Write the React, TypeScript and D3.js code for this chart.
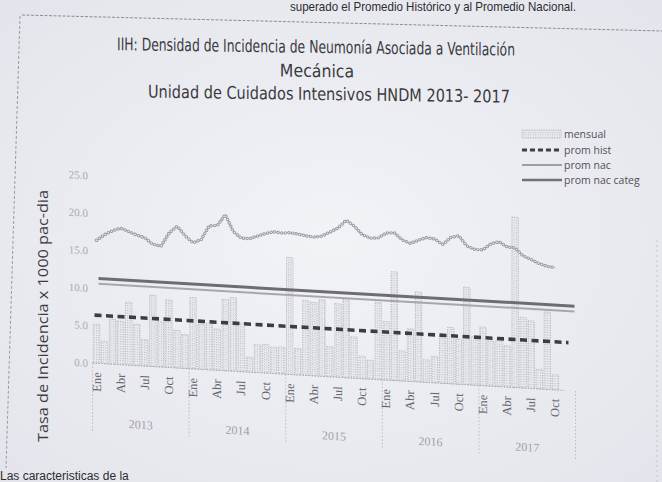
import React from 'react';
import * as d3 from 'd3';

const W = 662;
const H = 482;

const YEARS = ['2013', '2014', '2015', '2016', '2017'];
const MONTH_TICKS = ['Ene', 'Abr', 'Jul', 'Oct'];
const Y_TICKS = [0, 5, 10, 15, 20, 25];
const Y_TICK_LABELS = ['0.0', '5.0', '10.0', '15.0', '20.0', '25.0'];

// monthly density, Ene 2013 .. Oct 2017
const MENSUAL = [
  5.2, 3.0, 6.0, 5.8, 8.4, 5.5, 3.5, 9.5, 6.0, 9.0, 5.0, 4.5,
  9.5, 6.0, 6.2, 5.5, 9.5, 9.8, 6.5, 2.0, 3.7, 3.8, 3.5, 3.6,
  15.6, 3.5, 10.0, 9.8, 10.2, 4.0, 9.8, 10.4, 5.5, 3.0, 2.5, 10.3,
  7.8, 14.5, 4.0, 7.0, 12.0, 3.0, 3.5, 6.5, 7.5, 6.0, 13.0, 6.5,
  7.8, 6.0, 6.2, 5.5, 22.7, 9.4, 9.0, 2.6, 10.3, 2.0,
];

// upper wavy series
const TENDENCIA = [
  16.4, 17.2, 17.8, 18.2, 17.8, 17.4, 17.1, 16.3, 16.1, 17.9, 18.9, 17.7,
  16.8, 17.3, 19.2, 19.3, 20.8, 18.6, 17.8, 17.8, 18.2, 18.6, 18.9, 18.8,
  18.9, 18.8, 18.6, 18.5, 18.7, 19.3, 19.9, 21.0, 20.3, 19.2, 18.8, 18.9,
  19.6, 19.7, 18.8, 18.4, 18.9, 19.3, 19.2, 18.5, 19.5, 19.8, 18.5, 18.1,
  18.1, 19.0, 19.3, 18.7, 18.6, 17.6, 17.2, 16.7, 16.4, 16.3,
];

const PROM_HIST = 6.4;
const PROM_NAC = 10.6;
const PROM_NAC_CATEG = 11.3;

const LEGEND = ['mensual', 'prom hist', 'prom nac', 'prom nac categ'];

const BG = '#eceef3';
const SANS = "'Liberation Sans Narrow', 'DejaVu Sans Condensed', 'Open Sans', sans-serif";
const SERIF = "'Liberation Serif', 'DejaVu Serif', serif";

export default function App() {
  const nMonths = YEARS.length * 12;
  const step = 8.05;
  const x0 = 92.5;
  const x = d3
    .scaleBand<number>()
    .domain(d3.range(nMonths))
    .range([x0, x0 + step * nMonths])
    .paddingInner(0.2)
    .paddingOuter(0.1);
  const bw = x.bandwidth();
  const cx = (i: number) => (x(i) as number) + bw / 2;
  const y = d3.scaleLinear().domain([0, 25]).range([362, 174.5]);

  const plotSlope = 0.058;
  const plotDeg = (Math.atan(plotSlope) * 180) / Math.PI;
  const plotT = `translate(0,${-plotSlope * 75}) skewY(${plotDeg})`;
  const titleSlope = 0.014;
  const titleT = `translate(0,${-titleSlope * 320}) skewY(${(Math.atan(titleSlope) * 180) / Math.PI})`;

  const lineGen = d3
    .line<number>()
    .x((_, i) => cx(i))
    .y((d) => y(d));
  const trendPath = lineGen(TENDENCIA) || '';

  const xStart = cx(0);
  const xEnd = cx(nMonths - 1) + 3;

  return (
    <svg
      width={W}
      height={H}
      style={{ position: 'absolute', left: 0, top: 0, background: BG }}
      xmlns="http://www.w3.org/2000/svg"
    >
      <defs>
        <radialGradient id="paper" cx="50%" cy="50%" r="75%">
          <stop offset="0%" stopColor="#f2f3f7" />
          <stop offset="100%" stopColor="#e3e4eb" />
        </radialGradient>
        <pattern id="stip" width="2.4" height="2.4" patternUnits="userSpaceOnUse">
          <rect width="2.4" height="2.4" fill="#e8e9ee" />
          <rect width="1" height="1" fill="#bdbdc3" />
        </pattern>
      </defs>
      <rect width={W} height={H} fill="url(#paper)" />

      {/* header text cut at top */}
      <text x={290} y={11} fontFamily="'Liberation Sans', Arial, sans-serif" fontSize={13} fill="#2c2c30" textLength={286} lengthAdjust="spacingAndGlyphs">
        superado el Promedio Histórico y al Promedio Nacional.
      </text>

      {/* frame */}
      <line x1={22} y1={15} x2={662} y2={31} stroke="#8c8c92" strokeWidth={1} strokeDasharray="3 1.5" />
      <line x1={20} y1={16} x2={6} y2={468} stroke="#9a9aa0" strokeWidth={1} strokeDasharray="3 2" />
      <line x1={657} y1={240} x2={657} y2={482} stroke="#c4c4ca" strokeWidth={1} strokeDasharray="2 3" />

      {/* title */}
      <g transform={titleT} fill="#3a3a40" fontFamily={SANS} fontSize={17.5}>
        <text x={316} y={53} textAnchor="middle" textLength={398} lengthAdjust="spacingAndGlyphs">
          IIH: Densidad de Incidencia de Neumonía Asociada a Ventilación
        </text>
        <text x={317} y={77} textAnchor="middle">
          Mecánica
        </text>
        <text x={329} y={100} textAnchor="middle" textLength={362} lengthAdjust="spacingAndGlyphs">
          Unidad de Cuidados Intensivos HNDM 2013- 2017
        </text>
      </g>

      {/* legend */}
      <g fontFamily="'Open Sans', 'Noto Sans', sans-serif" fontSize={10.5} fill="#505056">
        {LEGEND.map((name, i) => {
          const ly = [134, 150, 165, 180][i];
          return (
            <g key={name}>
              {i === 0 && (
                <rect x={522} y={ly - 4} width={39} height={8} fill="url(#stip)" stroke="#b0b0b6" strokeWidth={0.8} strokeDasharray="1.2 1.2" />
              )}
              {i === 1 && <line x1={522} x2={562} y1={ly} y2={ly} stroke="#3e3e44" strokeWidth={3} strokeDasharray="5 3" />}
              {i === 2 && <line x1={522} x2={562} y1={ly} y2={ly} stroke="#9e9ea4" strokeWidth={2} />}
              {i === 3 && <line x1={522} x2={562} y1={ly} y2={ly} stroke="#707076" strokeWidth={2.5} />}
              <text x={564} y={ly + 3.5}>{name}</text>
            </g>
          );
        })}
      </g>

      {/* y axis title */}
      <text
        transform="translate(48,316) rotate(-90)"
        textAnchor="middle"
        fontFamily="'Open Sans', 'Noto Sans', sans-serif"
        fontSize={14}
        fill="#3a3a40"
        textLength={252}
        lengthAdjust="spacingAndGlyphs"
      >
        Tasa de Incidencia x 1000 pac-dia
      </text>

      {/* plot */}
      <g transform={plotT}>
        {/* y tick labels */}
        {Y_TICKS.map((t, i) => (
          <text key={t} x={88} y={y(t) + 4} textAnchor="end" fontFamily={SERIF} fontSize={11} fill="#a9a9b0">
            {Y_TICK_LABELS[i]}
          </text>
        ))}

        {/* bars */}
        {MENSUAL.map((v, i) => (
          <rect
            key={i}
            x={x(i)}
            y={y(v)}
            width={bw}
            height={y(0) - y(v)}
            fill="url(#stip)"
            stroke="#b0b0b6"
            strokeWidth={0.8}
            strokeDasharray="1.2 1.2"
          />
        ))}

        {/* baseline */}
        <line x1={x0} x2={xEnd - 10} y1={y(0)} y2={y(0)} stroke="#a6a6ac" strokeWidth={1} strokeDasharray="1.5 1.5" />

        {/* year separators */}
        {d3.range(YEARS.length + 1).map((k) => {
          const sx = x0 + k * 12 * step;
          return <line key={k} x1={sx} x2={sx} y1={y(0)} y2={430} stroke="#b6b6bc" strokeWidth={0.9} strokeDasharray="1.5 2" />;
        })}

        {/* averages */}
        <line x1={xStart + 2} x2={xEnd} y1={y(PROM_NAC)} y2={y(PROM_NAC)} stroke="#a6a6ac" strokeWidth={2} />
        <line x1={xStart + 2} x2={xEnd} y1={y(PROM_NAC_CATEG)} y2={y(PROM_NAC_CATEG)} stroke="#6c6c72" strokeWidth={3} />
        <line x1={xStart - 2} x2={xEnd - 6} y1={y(PROM_HIST)} y2={y(PROM_HIST)} stroke="#3c3c42" strokeWidth={3.6} strokeDasharray="7 4.5" />

        {/* wavy series */}
        <path d={trendPath} fill="none" stroke="#b2b2b8" strokeWidth={0.8} />
        <path d={trendPath} fill="none" stroke="#9a9aa0" strokeWidth={3.4} strokeDasharray="0.01 3.6" strokeLinecap="round" />
        <path d={trendPath} fill="none" stroke={BG} strokeWidth={1.5} strokeDasharray="0.01 3.6" strokeLinecap="round" />

        {/* month labels */}
        {d3.range(MENSUAL.length)
          .filter((i) => i % 3 === 0)
          .map((i) => (
            <text
              key={i}
              transform={`translate(${cx(i) + 4},${y(0) + 9}) rotate(-90)`}
              textAnchor="end"
              fontFamily={SERIF}
              fontSize={12.5}
              fill="#66666c"
            >
              {MONTH_TICKS[(i % 12) / 3]}
            </text>
          ))}

        {/* year labels */}
        {YEARS.map((yr, k) => (
          <text key={yr} x={x0 + (k * 12 + 6) * step} y={425} textAnchor="middle" fontFamily={SERIF} fontSize={12} fill="#a0a0a7">
            {yr}
          </text>
        ))}
      </g>

      {/* bottom text */}
      <text x={0} y={480} fontFamily="'Liberation Sans', Arial, sans-serif" fontSize={12} fill="#2c2c30">
        Las caracteristicas de la
      </text>
    </svg>
  );
}
